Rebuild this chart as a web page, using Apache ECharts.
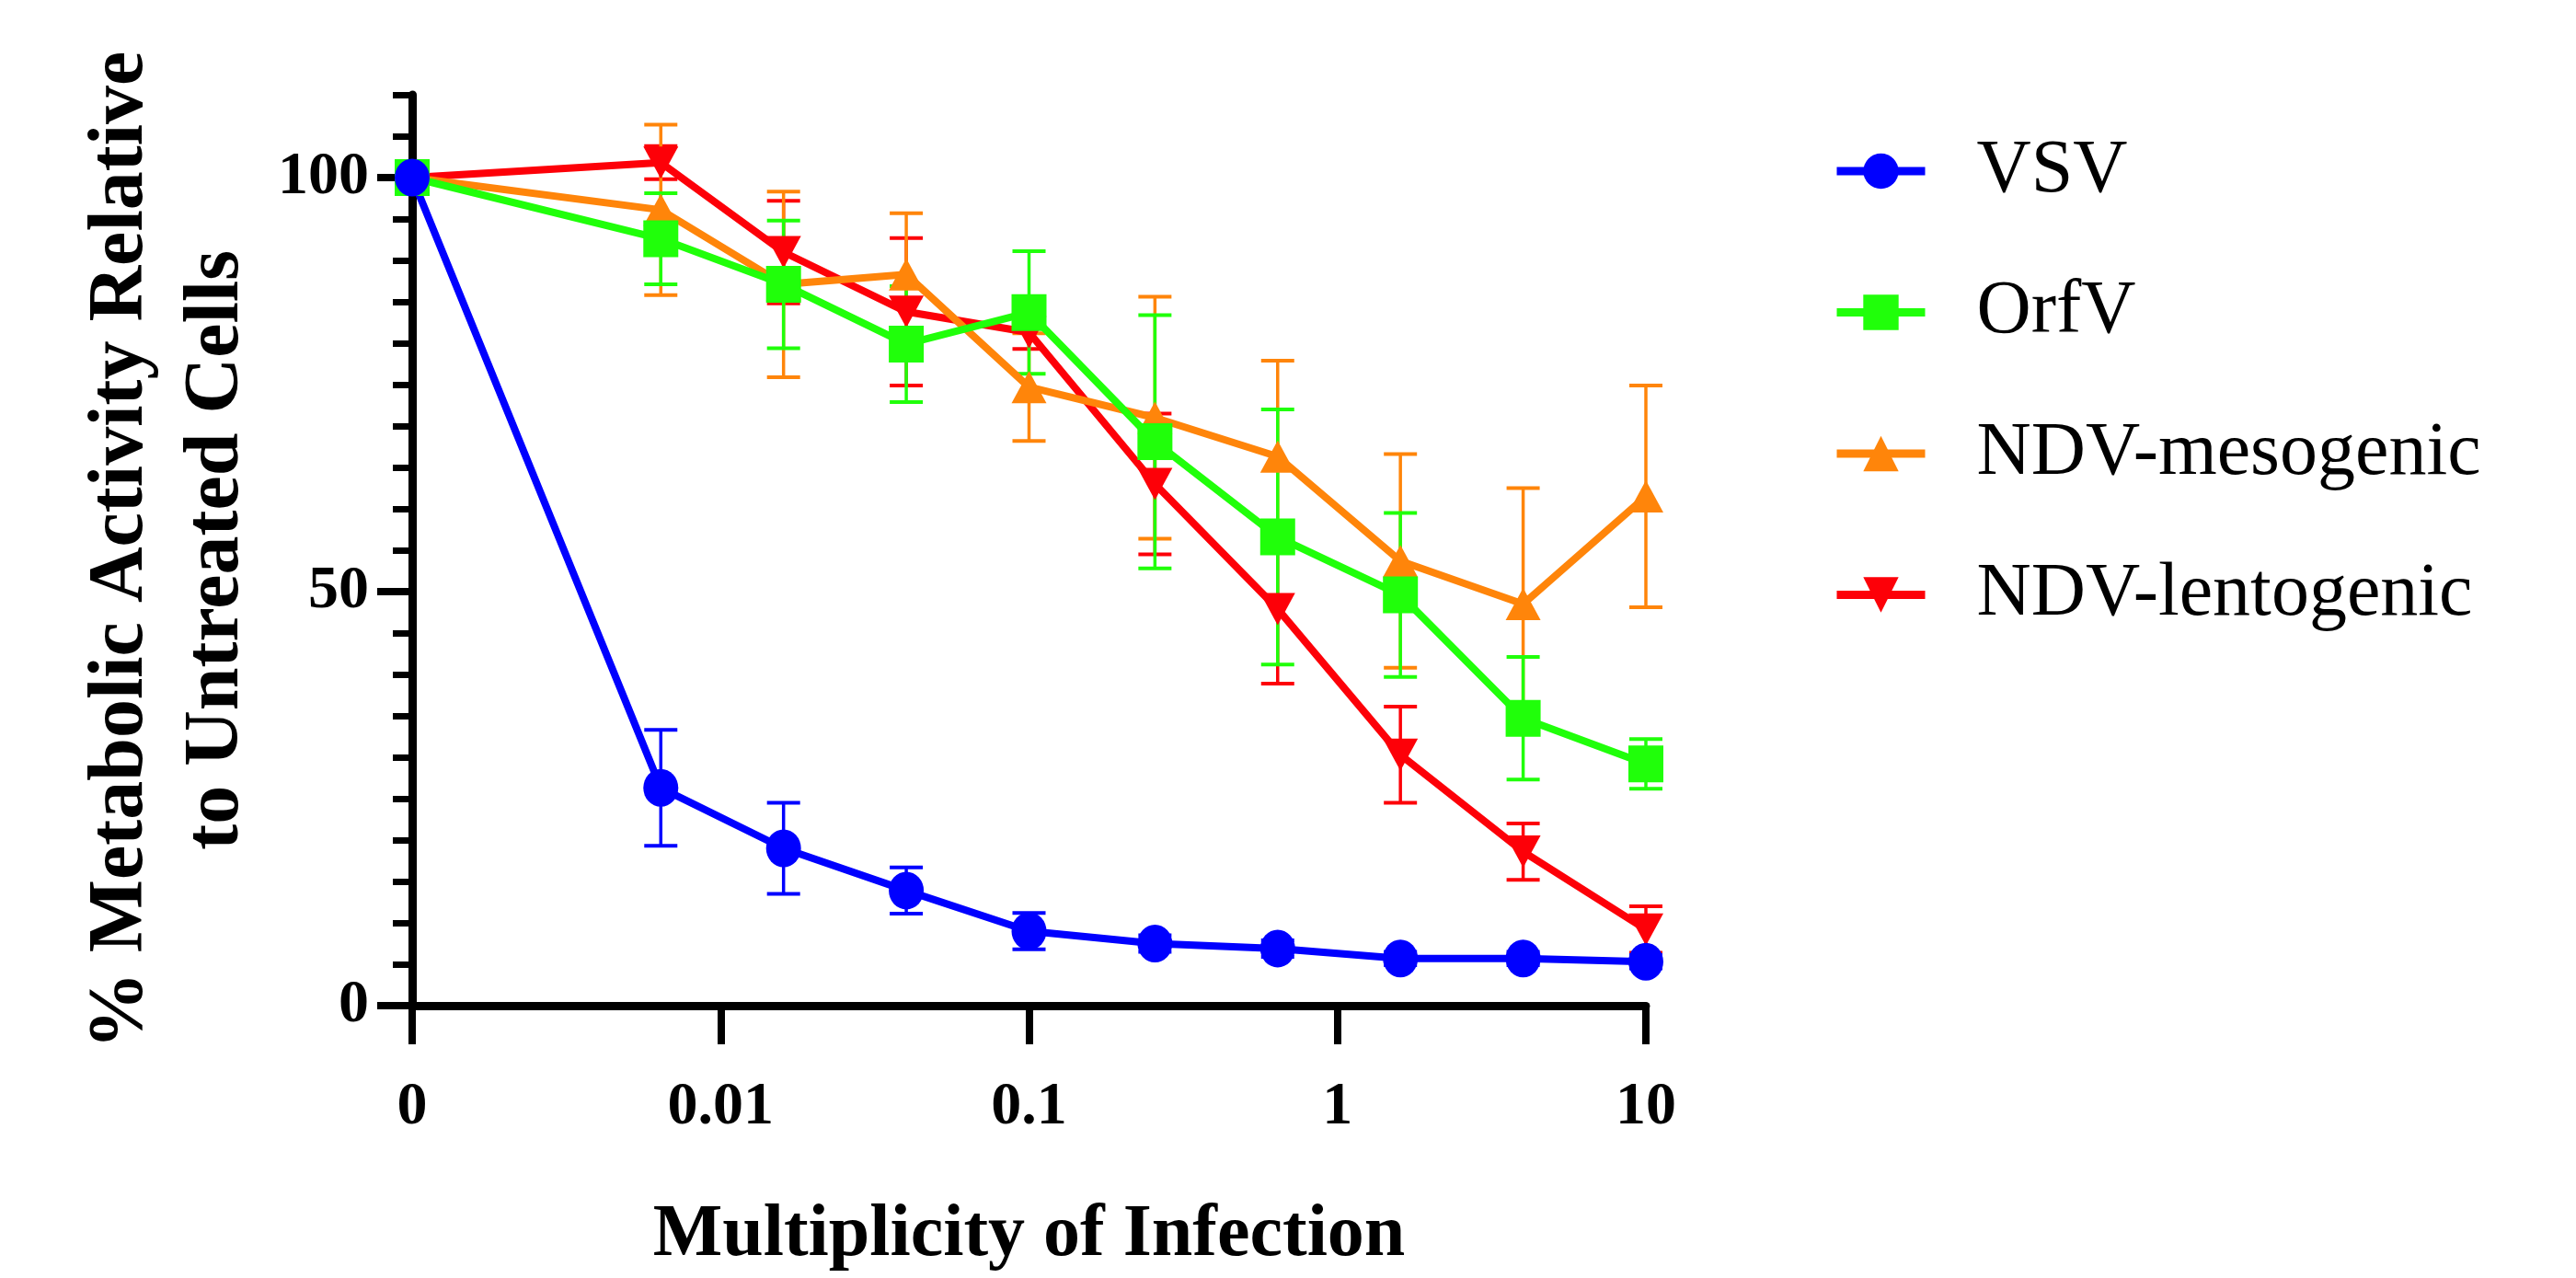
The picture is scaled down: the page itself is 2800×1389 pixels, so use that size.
<!DOCTYPE html>
<html><head><meta charset="utf-8">
<script src="https://cdn.jsdelivr.net/npm/echarts@6/dist/echarts.min.js"></script>
<style>html,body{margin:0;padding:0;background:#fff}#c{width:2800px;height:1389px}</style>
</head><body><div id="c"></div>
<script>
// Multiplicity of infection (first point is the untreated "0" control, drawn at the 0.001 decade)
const moi = [0.001, 0.0064, 0.016, 0.04, 0.1, 0.256, 0.64, 1.6, 4, 10];
const xTickValues = [0.001, 0.01, 0.1, 1, 10];
const xTickLabels = ['0', '0.01', '0.1', '1', '10'];
const yTickValues = [0, 50, 100];
const seriesNames = ['VSV', 'OrfV', 'NDV-mesogenic', 'NDV-lentogenic'];

const vsv      = [100, 26.3, 19.0, 13.9, 9.0, 7.5, 6.9, 5.7, 5.7, 5.3];
const vsvErr   = [0, 7.0, 5.5, 2.8, 2.2, 1.0, 1.0, 0.8, 0.8, 0.8];
const orfv     = [100, 92.6, 87.1, 79.9, 83.7, 68.1, 56.6, 49.6, 34.7, 29.2];
const orfvErr  = [0, 5.5, 7.7, 7.0, 7.4, 15.3, 15.4, 9.9, 7.4, 3.0];
const meso     = [100, 96.1, 87.1, 88.3, 74.7, 71.0, 66.3, 53.7, 48.5, 61.5];
const mesoErr  = [0, 10.3, 11.2, 7.4, 6.5, 14.6, 11.6, 12.9, 14.0, 13.4];
const lento    = [100, 101.8, 91.0, 83.8, 81.3, 63.0, 47.9, 30.3, 18.6, 9.2];
const lentoErr = [0, 2.0, 6.2, 8.9, 2.0, 8.5, 9.0, 5.8, 3.4, 2.8];

const colors = { VSV: '#0000ff', OrfV: '#20ff0a', 'NDV-mesogenic': '#ff850a', 'NDV-lentogenic': '#fd0008' };
const serif = '"Liberation Serif", "DejaVu Serif", serif';

function pts(vals) { return moi.map((x, i) => [x, vals[i]]); }
function errPts(vals, errs) {
  const out = [];
  moi.forEach((x, i) => { if (errs[i] > 0) out.push([x, vals[i] - errs[i], vals[i] + errs[i]]); });
  return out;
}
function errSeries(name, vals, errs) {
  const c = colors[name];
  return {
    type: 'custom', name: name + ' err', silent: true,
    data: errPts(vals, errs), encode: { x: 0, y: [1, 2] },
    renderItem: function (params, api) {
      const x = api.value(0);
      const top = api.coord([x, api.value(2)]);
      const bot = api.coord([x, api.value(1)]);
      const hw = 18;
      return { type: 'group', children: [
        { type: 'line', shape: { x1: top[0], y1: top[1], x2: bot[0], y2: bot[1] }, style: { stroke: c, lineWidth: 3.5 } },
        { type: 'line', shape: { x1: top[0] - hw, y1: top[1], x2: top[0] + hw, y2: top[1] }, style: { stroke: c, lineWidth: 4 } },
        { type: 'line', shape: { x1: bot[0] - hw, y1: bot[1], x2: bot[0] + hw, y2: bot[1] }, style: { stroke: c, lineWidth: 4 } }
      ] };
    }
  };
}
function lineSeries(name, vals, symbol, size, rot) {
  const c = colors[name];
  return {
    type: 'line', name: name, data: pts(vals), clip: false,
    symbol: symbol, symbolSize: size, symbolRotate: rot || 0,
    lineStyle: { color: c, width: 8 }, itemStyle: { color: c },
    emphasis: { disabled: true }
  };
}

const chart = echarts.init(document.getElementById('c'), null, { renderer: 'canvas' });
chart.setOption({
  animation: false,
  backgroundColor: '#fff',
  grid: { left: 448, top: 103, width: 1341, height: 990, containLabel: false },
  legend: {
    orient: 'vertical', left: 1992, top: 141, padding: 0,
    itemWidth: 96, itemHeight: 48, itemGap: 63.5, selectedMode: false,
    data: seriesNames,
    lineStyle: { width: 9 },
    textStyle: { fontFamily: serif, fontSize: 82, color: '#000', lineHeight: 90, padding: [0, 0, 0, 51] }
  },
  xAxis: {
    type: 'log', logBase: 10, min: 0.001, max: 10,
    name: 'Multiplicity of Infection', nameLocation: 'middle', nameGap: 210,
    nameTextStyle: { fontFamily: serif, fontSize: 80, fontWeight: 'bold', color: '#000', lineHeight: 80 },
    axisLine: { show: true, onZero: false, lineStyle: { color: '#000', width: 9 } },
    axisTick: { show: true, inside: false, length: 42, lineStyle: { color: '#000', width: 8 } },
    minorTick: { show: false },
    splitLine: { show: false },
    axisLabel: {
      margin: 78, fontFamily: serif, fontSize: 66, fontWeight: 'bold', color: '#000', lineHeight: 66,
      formatter: function (v) {
        for (let i = 0; i < xTickValues.length; i++) {
          if (Math.abs(Math.log10(v) - Math.log10(xTickValues[i])) < 1e-6) return xTickLabels[i];
        }
        return '';
      }
    }
  },
  yAxis: [
    {
      type: 'value', min: 0, max: 110, interval: 5,
      name: '% Metabolic Activity Relative\nto Untreated Cells', nameLocation: 'middle', nameGap: 160,
      nameTextStyle: { fontFamily: serif, fontSize: 84, fontWeight: 'bold', color: '#000', lineHeight: 104, align: 'center' },
      axisLine: { show: true, onZero: false, lineStyle: { color: '#000', width: 9 } },
      axisTick: { show: true, inside: false, length: 21, lineStyle: { color: '#000', width: 7 } },
      axisLabel: { customValues: yTickValues, margin: 47, fontFamily: serif, fontSize: 66, fontWeight: 'bold', color: '#000' },
      splitLine: { show: false }
    },
    {
      type: 'value', min: 0, max: 110, interval: 5, position: 'left', offset: 0,
      axisLine: { show: false },
      axisTick: { show: true, inside: false, length: 38, customValues: yTickValues, lineStyle: { color: '#000', width: 8 } },
      axisLabel: { show: false },
      splitLine: { show: false }
    }
  ],
  series: [
    errSeries('NDV-lentogenic', lento, lentoErr),
    lineSeries('NDV-lentogenic', lento, 'triangle', [38, 35], 180),
    errSeries('NDV-mesogenic', meso, mesoErr),
    lineSeries('NDV-mesogenic', meso, 'triangle', [38, 35], 0),
    errSeries('OrfV', orfv, orfvErr),
    lineSeries('OrfV', orfv, 'rect', [38, 40]),
    errSeries('VSV', vsv, vsvErr),
    lineSeries('VSV', vsv, 'circle', [38, 41])
  ]
});
</script>
</body></html>
